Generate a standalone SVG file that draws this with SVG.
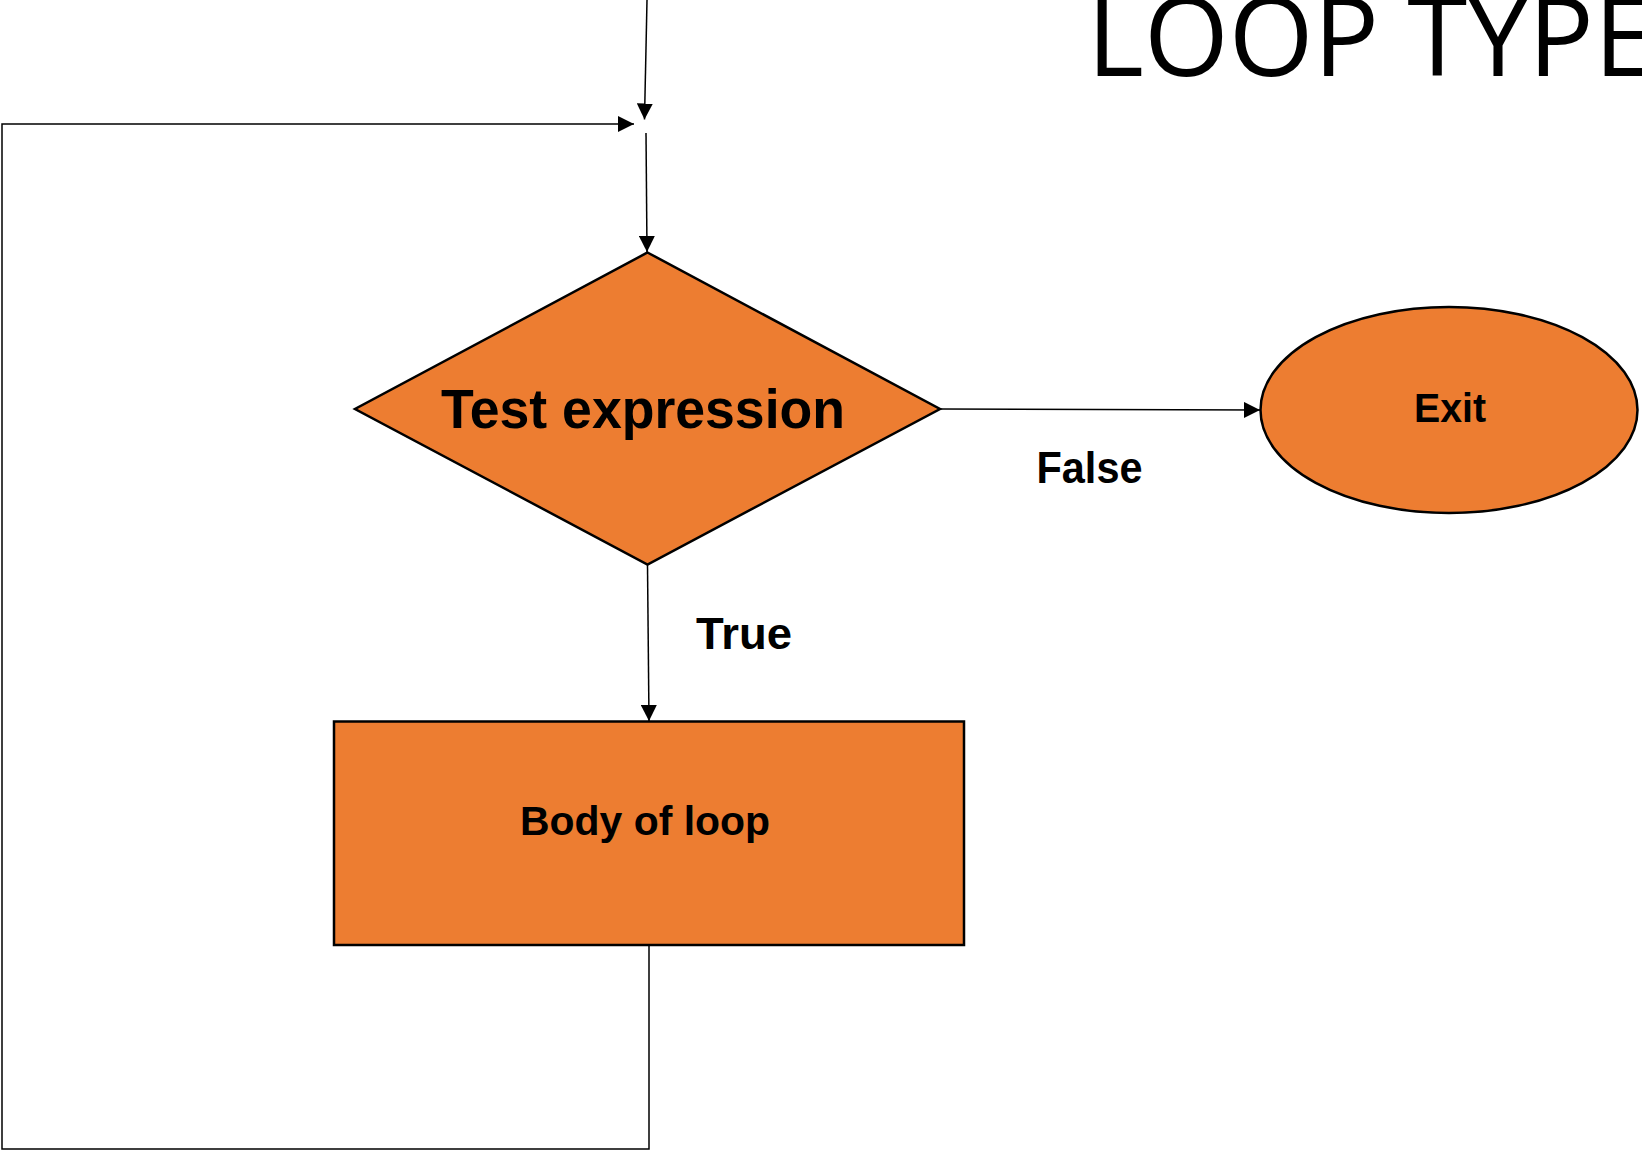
<svg xmlns="http://www.w3.org/2000/svg" width="1642" height="1152" viewBox="0 0 1642 1152">
<defs>
<style>
.shape{fill:#ED7D31;stroke:#000;stroke-width:2.5}
.conn{fill:none;stroke:#000;stroke-width:1.5}
.lbl{font-family:"Liberation Sans",Arial,sans-serif;font-weight:bold;fill:#000;text-anchor:middle}
.title{font-family:"Open Sans","Liberation Sans",sans-serif;font-weight:400;fill:#000}
</style>
<marker id="arr" markerUnits="userSpaceOnUse" markerWidth="16" markerHeight="16" viewBox="0 0 15 15" refX="15" refY="7.5" orient="auto">
<path d="M0,0 L15,7.5 L0,15 Z" fill="#000"/>
</marker>
</defs>
<rect width="1642" height="1152" fill="#fff"/>
<text class="title" x="1087" y="76" font-size="109">LOOP TYPE</text>
<g id="connectors">
<path class="conn" d="M647,0 L644.5,119.5" marker-end="url(#arr)"/>
<path class="conn" d="M646,133 L647,252" marker-end="url(#arr)"/>
<path class="conn" d="M940,409 L1260,410" marker-end="url(#arr)"/>
<path class="conn" d="M647.5,565 L649,721" marker-end="url(#arr)"/>
<path class="conn" d="M649,945 L649,1149 L2,1149 L2,124 L634,124" marker-end="url(#arr)"/>
</g>
<g id="test">
<polygon class="shape" points="647.5,252.5 940,409 647.5,564.5 355,409"/>
<text class="lbl" x="643" y="428" font-size="56" textLength="404" lengthAdjust="spacingAndGlyphs">Test expression</text>
</g>
<g id="exit">
<ellipse class="shape" cx="1449" cy="410" rx="188.5" ry="103"/>
<text class="lbl" x="1450" y="422" font-size="40" textLength="72" lengthAdjust="spacingAndGlyphs">Exit</text>
</g>
<g id="body">
<rect class="shape" x="334" y="721.5" width="630" height="223.5"/>
<text class="lbl" x="645" y="835" font-size="40.5" textLength="250" lengthAdjust="spacingAndGlyphs">Body of loop</text>
</g>
<g id="labels">
<text class="lbl" x="1089.5" y="483" font-size="45" textLength="106" lengthAdjust="spacingAndGlyphs">False</text>
<text class="lbl" x="744" y="649" font-size="45" textLength="96" lengthAdjust="spacingAndGlyphs">True</text>
</g>
</svg>
